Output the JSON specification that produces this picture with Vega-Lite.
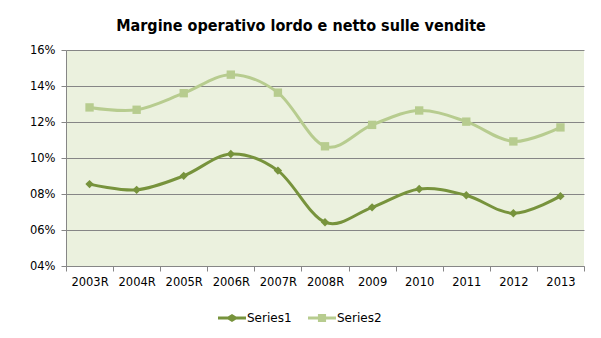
{
  "$schema": "https://vega.github.io/schema/vega-lite/v6.json",
  "width": 518,
  "height": 216,
  "autosize": {"type": "none"},
  "padding": {"left": 66, "top": 50, "right": 17, "bottom": 72},
  "background": "white",
  "title": {
    "text": "Margine operativo lordo e netto sulle vendite",
    "font": "DejaVu Sans Condensed",
    "fontSize": 16,
    "fontWeight": "bold",
    "color": "#000000",
    "anchor": "middle",
    "dx": -24,
    "offset": 10
  },
  "config": {
    "view": {"fill": "#EBF1DE", "stroke": null},
    "axis": {"labelFont": "DejaVu Sans", "labelFontSize": 11.5, "labelColor": "#000000", "domainColor": "#868686", "tickColor": "#868686", "gridColor": "#868686", "title": null}
  },
  "data": {
    "values": [
      {"anno": "2003R", "serie": "Series1", "v": 8.55},
      {"anno": "2004R", "serie": "Series1", "v": 8.23},
      {"anno": "2005R", "serie": "Series1", "v": 9.01},
      {"anno": "2006R", "serie": "Series1", "v": 10.22},
      {"anno": "2007R", "serie": "Series1", "v": 9.3},
      {"anno": "2008R", "serie": "Series1", "v": 6.43},
      {"anno": "2009", "serie": "Series1", "v": 7.26},
      {"anno": "2010", "serie": "Series1", "v": 8.28},
      {"anno": "2011", "serie": "Series1", "v": 7.93},
      {"anno": "2012", "serie": "Series1", "v": 6.93},
      {"anno": "2013", "serie": "Series1", "v": 7.88},
      {"anno": "2003R", "serie": "Series2", "v": 12.81},
      {"anno": "2004R", "serie": "Series2", "v": 12.68},
      {"anno": "2005R", "serie": "Series2", "v": 13.6},
      {"anno": "2006R", "serie": "Series2", "v": 14.63},
      {"anno": "2007R", "serie": "Series2", "v": 13.63},
      {"anno": "2008R", "serie": "Series2", "v": 10.65},
      {"anno": "2009", "serie": "Series2", "v": 11.84},
      {"anno": "2010", "serie": "Series2", "v": 12.64},
      {"anno": "2011", "serie": "Series2", "v": 12.02},
      {"anno": "2012", "serie": "Series2", "v": 10.92},
      {"anno": "2013", "serie": "Series2", "v": 11.7}
    ]
  },
  "encoding": {
    "x": {
      "field": "anno", "type": "ordinal", "sort": null,
      "scale": {"paddingInner": 0, "paddingOuter": 0},
      "axis": {"labelAngle": 0, "tickBand": "extent", "grid": false, "tickSize": 5, "labelPadding": 5, "domainWidth": 1}
    },
    "y": {
      "field": "v", "type": "quantitative",
      "scale": {"domain": [4, 16], "nice": false, "zero": false},
      "axis": {"values": [4, 6, 8, 10, 12, 14, 16], "labelExpr": "(datum.value < 10 ? '0' : '') + datum.value + '%'", "grid": true, "gridWidth": 1, "tickSize": 5, "labelPadding": 6}
    }
  },
  "layer": [
    {
      "mark": {"type": "line", "interpolate": "cardinal", "strokeWidth": 3},
      "encoding": {
        "color": {
          "field": "serie", "type": "nominal",
          "scale": {"domain": ["Series1", "Series2"], "range": ["#77933C", "#B7CC8F"]},
          "legend": {
            "title": null,
            "orient": "none",
            "direction": "horizontal",
            "legendX": 152,
            "legendY": 254,
            "labelFont": "DejaVu Sans",
            "labelFontSize": 12,
            "labelColor": "#000000",
            "symbolSize": 784,
            "symbolStrokeWidth": 0,
            "columnPadding": 16,
            "labelOffset": 1,
            "encode": {
              "symbols": {
                "update": {
                  "shape": {"signal": "datum.value === 'Series1' ? 'M-1,-0.11L-0.29,-0.11L0,-0.29L0.29,-0.11L1,-0.11L1,0.11L0.29,0.11L0,0.29L-0.29,0.11L-1,0.11Z' : 'M-1,-0.11L-0.29,-0.11L-0.29,-0.29L0.29,-0.29L0.29,-0.11L1,-0.11L1,0.11L0.29,0.11L0.29,0.29L-0.29,0.29L-0.29,0.11L-1,0.11Z'"},
                  "fill": {"signal": "datum.value === 'Series1' ? '#77933C' : '#B7CC8F'"},
                  "strokeWidth": {"value": 0}
                }
              }
            }
          }
        }
      }
    },
    {
      "mark": {"type": "point", "filled": true, "opacity": 1, "size": 70},
      "encoding": {
        "color": {"field": "serie", "type": "nominal", "scale": {"domain": ["Series1", "Series2"], "range": ["#77933C", "#B7CC8F"]}, "legend": null},
        "shape": {"condition": {"test": "datum.serie === 'Series1'", "value": "diamond"}, "value": "square"}
      }
    }
  ]
}
